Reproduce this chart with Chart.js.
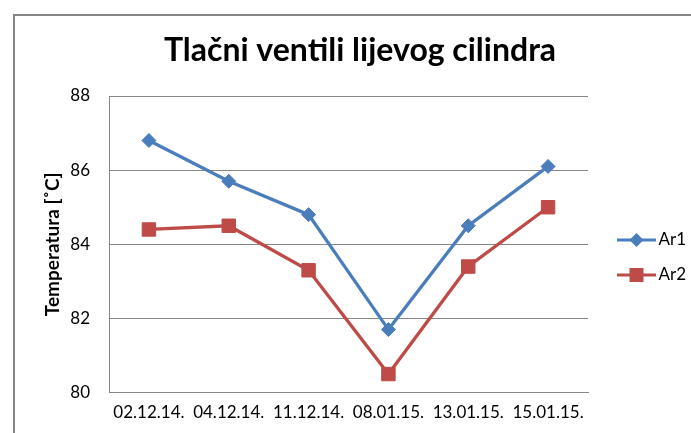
<!DOCTYPE html>
<html>
<head>
<meta charset="utf-8">
<script src="https://cdn.jsdelivr.net/npm/chart.js@4.4.1/dist/chart.umd.min.js"></script>
<style>
  html, body { margin: 0; padding: 0; background: #fff; overflow: hidden; }
</style>
</head>
<body>
<canvas id="grafikon" width="691" height="433"></canvas>
<script>
// podaci sa grafa
const datumi = ['02.12.14.', '04.12.14.', '11.12.14.', '08.01.15.', '13.01.15.', '15.01.15.'];
const ar1 = [86.8, 85.7, 84.8, 81.7, 84.5, 86.1];
const ar2 = [84.4, 84.5, 83.3, 80.5, 83.4, 85.0];
const yTicks = [80, 82, 84, 86, 88];

const plava = '#4A7EBB';
const crvena = '#BE4B48';
const siva = '#868686';
const font = 'Lato, "Open Sans", sans-serif';

// sličica za legendu: linija + marker
function legendaSlika(boja, oblik) {
    const c = document.createElement('canvas');
    c.width = 56; c.height = 18;
    const g = c.getContext('2d');
    g.strokeStyle = boja;
    g.lineWidth = 3;
    g.beginPath();
    g.moveTo(17, 9);
    g.lineTo(56, 9);
    g.stroke();
    g.fillStyle = boja;
    const cx = 36.5;
    g.beginPath();
    if (oblik === 'romb') {
        g.moveTo(cx, 2); g.lineTo(cx + 7, 9); g.lineTo(cx, 16); g.lineTo(cx - 7, 9);
        g.closePath();
    } else {
        g.rect(cx - 7, 2, 14, 14);
    }
    g.fill();
    return c;
}

const okvir = {
    id: 'okvir',
    beforeDraw(chart) {
        const ctx = chart.ctx;
        ctx.save();
        ctx.fillStyle = '#fff';
        ctx.fillRect(0, 0, chart.width, chart.height);
        ctx.strokeStyle = siva;
        ctx.lineWidth = 2;
        ctx.strokeRect(14, 15, 800, 600);
        ctx.restore();
    }
};

// spusti legendu malo niže
const pomakLegende = {
    id: 'pomakLegende',
    afterLayout(chart) {
        if (chart.legend) {
            chart.legend.top += 41;
            chart.legend.bottom += 41;
        }
    }
};

new Chart(document.getElementById('grafikon'), {
    type: 'line',
    data: {
        labels: datumi,
        datasets: [{
            label: 'Ar1',
            data: ar1,
            borderColor: plava,
            backgroundColor: plava,
            borderWidth: 3.3,
            pointStyle: 'rectRot',
            pointRadius: 7,
            pointHoverRadius: 7,
            pointBorderWidth: 1,
            tension: 0
        }, {
            label: 'Ar2',
            data: ar2,
            borderColor: crvena,
            backgroundColor: crvena,
            borderWidth: 3.3,
            pointStyle: 'rect',
            pointRadius: 9.5,
            pointHoverRadius: 9.5,
            pointBorderWidth: 1,
            tension: 0
        }]
    },
    options: {
        responsive: false,
        animation: false,
        devicePixelRatio: 1,
        layout: {
            padding: { left: 29, right: 0, top: 0, bottom: 0 }
        },
        plugins: {
            title: {
                display: true,
                text: 'Tlačni ventili lijevog cilindra',
                color: '#000',
                font: { family: font, size: 32, weight: 'bold' },
                padding: { top: 31, bottom: 26.6 }
            },
            legend: {
                position: 'right',
                maxWidth: 103,
                labels: {
                    usePointStyle: true,
                    pointStyleWidth: 44,
                    padding: 18,
                    color: '#000',
                    font: { family: font, size: 17 },
                    generateLabels(chart) {
                        return chart.data.datasets.map((ds, i) => ({
                            text: ds.label,
                            pointStyle: legendaSlika(ds.borderColor, i === 0 ? 'romb' : 'kvadrat'),
                            fillStyle: ds.borderColor,
                            strokeStyle: ds.borderColor,
                            lineWidth: 0,
                            hidden: false,
                            datasetIndex: i,
                            fontColor: '#000'
                        }));
                    }
                }
            },
            tooltip: { enabled: false }
        },
        scales: {
            x: {
                offset: true,
                grid: { display: false, drawTicks: false },
                border: { display: true, color: siva, width: 1 },
                ticks: {
                    color: '#000',
                    padding: 10,
                    maxRotation: 0,
                    autoSkip: false,
                    font: { family: font, size: 17 }
                }
            },
            y: {
                min: 80,
                max: 88,
                afterBuildTicks(scale) {
                    scale.ticks = yTicks.map(v => ({ value: v }));
                },
                afterFit(scale) {
                    scale.width = 80;
                },
                grid: { color: siva, lineWidth: 1, drawTicks: false },
                border: { display: true, color: siva, width: 1 },
                ticks: {
                    color: '#000',
                    padding: 19,
                    font: { family: font, size: 17 }
                },
                title: {
                    display: true,
                    text: 'Temperatura [˚C]',
                    color: '#000',
                    padding: { top: 12, bottom: 0 },
                    font: { family: font, size: 19, weight: 'bold' }
                }
            }
        }
    },
    plugins: [okvir, pomakLegende]
});
</script>
</body>
</html>
